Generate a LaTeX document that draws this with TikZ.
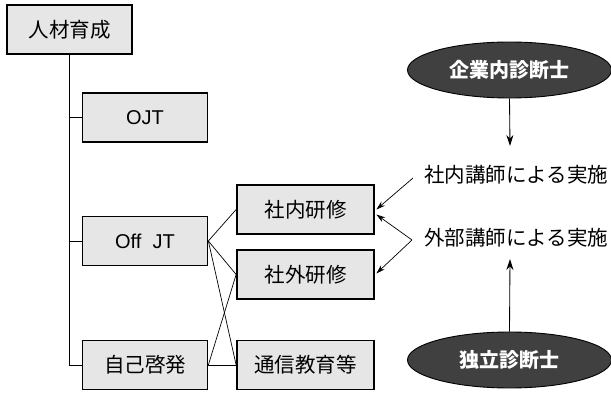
\documentclass[tikz,border=0pt]{standalone}
\usepackage{fontspec}
\setmainfont{Liberation Sans}
\newfontfamily\cjk{Noto Sans CJK JP}
\usetikzlibrary{shapes.geometric,arrows.meta,calc}
\definecolor{boxfill}{HTML}{E6E6E6}
\definecolor{ovalfill}{HTML}{404040}
\tikzset{
  box/.style={draw=black, line width=1.7pt, fill=boxfill, minimum width=125pt, minimum height=49pt, inner sep=0pt, font=\fontsize{20}{24}\selectfont},
  sbox/.style={box, minimum width=137pt},
  cj/.style={font=\cjk\fontsize{20.5}{24}\selectfont},
  oval/.style={draw=black, line width=0.9pt, fill=ovalfill, ellipse, minimum width=204pt, minimum height=56pt, inner sep=0pt, text=white, font=\cjk\bfseries\fontsize{20}{24}\selectfont},
  lbl/.style={anchor=west, inner sep=0pt, font=\cjk\fontsize{20.5}{24}\selectfont},
  conn/.style={draw=black, line width=0.7pt},
  arr/.style={conn, line width=0.85pt, -{Stealth[length=11pt, width=7pt]}},
}
\begin{document}
\begin{tikzpicture}[x=1pt, y=-1pt]
\useasboundingbox (0,0) rectangle (611,393);
% boxes
\node[box,cj] (root) at (69.5,29.5) {人材育成};
\node[box] (ojt) at (145,117.5) {OJT};
\node[box] (off) at (145,241) {Off\ \ JT};
\node[box,cj] (self) at (145,365) {自己啓発};
\node[sbox,cj] (s1) at (305.5,209.5) {社内研修};
\node[sbox,cj] (s2) at (305.5,274.5) {社外研修};
\node[sbox,cj] (corr) at (305.5,365) {通信教育等};
% ovals
\node[oval] (e1) at (509.5,70) {企業内診断士};
\node[oval] (e2) at (509.5,360) {独立診断士};
% labels
\node[lbl] (l1) at (424,175) {社内講師による実施};
\node[lbl] (l2) at (424,238) {外部講師による実施};
% tree connectors
\draw[conn] (root.south) |- (ojt.west);
\draw[conn] (root.south) |- (off.west);
\draw[conn] (root.south) |- (self.west);
\draw[conn] (off.east) -- (s1.west);
\draw[conn] (off.east) -- (s2.west);
\draw[conn] (off.east) -- (corr.west);
\draw[conn] (self.east) -- (s2.west);
\draw[conn] (self.east) -- (corr.west);
% arrows
\coordinate (a1) at (510,146);
\coordinate (a2) at (510,259);
\draw[arr] (e1.south) -- (a1);
\draw[arr] (e2.north) -- (a2);
\coordinate (p1) at (413,178);
\coordinate (p2) at (412,240);
\coordinate (t1) at ($(s1.east)+(1.5,0)$);
\coordinate (t2) at ($(s1.east)+(1.5,5)$);
\coordinate (t3) at ($(s2.east)+(1.5,-1)$);
\draw[conn, -{Stealth[length=9pt, width=5.5pt]}] (p1) -- (t1);
\draw[conn, -{Stealth[length=9pt, width=5.5pt]}] (p2) -- (t2);
\draw[conn, -{Stealth[length=9pt, width=5.5pt]}] (p2) -- (t3);
\end{tikzpicture}
\end{document}
